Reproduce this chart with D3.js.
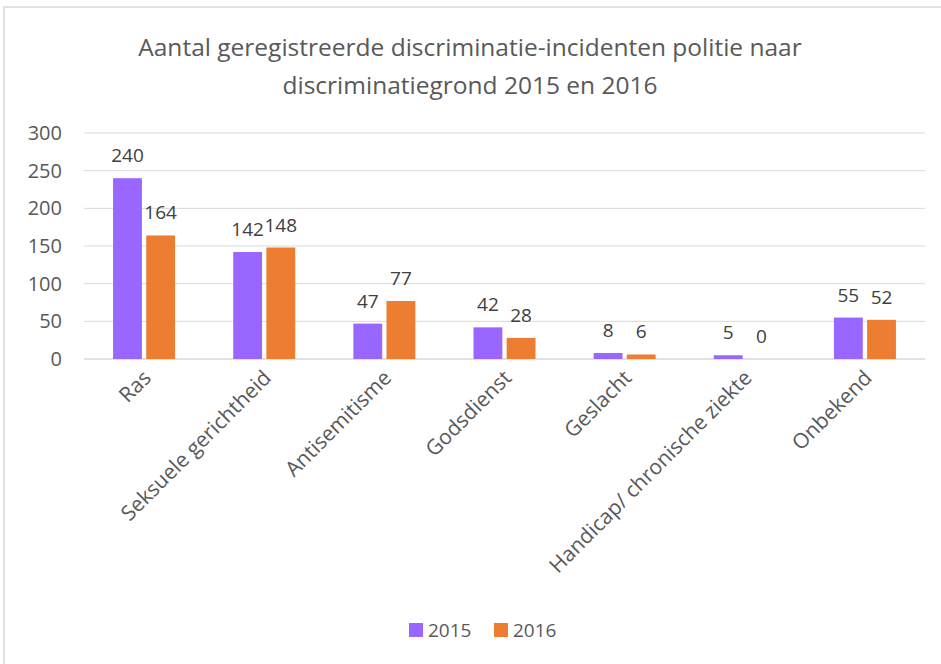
<!DOCTYPE html>
<html lang="nl">
<head>
<meta charset="UTF-8">
<title>Discriminatie-incidenten</title>
<script src="https://d3js.org/d3.v7.min.js"></script>
<style>
    body { margin: 0; background: #fff; }
    text { font-family: "Open Sans", "Noto Sans", sans-serif; }
</style>
</head>
<body>
<div id="chart"></div>
<script>
    // data
    let categories = ["Ras", "Seksuele gerichtheid", "Antisemitisme", "Godsdienst",
        "Geslacht", "Handicap/ chronische ziekte", "Onbekend"];
    let years = ["2015", "2016"];
    let values2015 = [240, 142, 47, 42, 8, 5, 55];
    let values2016 = [164, 148, 77, 28, 6, 0, 52];
    let yTicks = [0, 50, 100, 150, 200, 250, 300];
    let colors = ["#9966ff", "#ed7d31"];

    let width = 941, height = 664;
    let plotLeft = 84, plotRight = 925, plotTop = 133, plotBottom = 359;

    let svg = d3.select("#chart").append("svg")
        .attr("width", width)
        .attr("height", height);

    // chart frame
    svg.append("rect")
        .attr("x", 4).attr("y", 7)
        .attr("width", width + 10).attr("height", height + 10)
        .attr("fill", "none")
        .attr("stroke", "#d9d9d9")
        .attr("stroke-width", 1.5);

    // title
    let title = svg.append("text")
        .attr("text-anchor", "middle")
        .attr("fill", "#595959")
        .style("font-size", "24.5px");
    title.append("tspan").attr("x", 470).attr("y", 56)
        .text("Aantal geregistreerde discriminatie-incidenten politie naar");
    title.append("tspan").attr("x", 470).attr("y", 94)
        .text("discriminatiegrond 2015 en 2016");

    let y = d3.scaleLinear().domain([0, 300]).range([plotBottom, plotTop]);
    let x0 = d3.scaleBand().domain(categories).range([plotLeft, plotRight]);
    let x1 = d3.scaleBand().domain(years).range([0, 62]).paddingInner(0.13);

    // gridlines
    svg.append("g").selectAll("line")
        .data(yTicks)
        .enter().append("line")
        .attr("x1", plotLeft).attr("x2", plotRight)
        .attr("y1", d => y(d)).attr("y2", d => y(d))
        .attr("stroke", "#d9d9d9")
        .attr("stroke-width", d => d === 0 ? 1.5 : 1);

    // y axis labels
    let yAxis = svg.append("g")
        .attr("transform", "translate(" + (plotLeft - 22) + ",0)")
        .call(d3.axisLeft(y).tickValues(yTicks).tickSize(0).tickPadding(0));
    yAxis.select(".domain").remove();
    yAxis.selectAll("text")
        .attr("fill", "#595959")
        .style("font-size", "20px")
        .style("font-family", "\"Open Sans\", sans-serif");

    let series = years.map((yr, i) => ({
        year: yr,
        values: (i === 0 ? values2015 : values2016).map((v, j) => ({cat: categories[j], value: v}))
    }));

    let groupOffset = (x0.bandwidth() - 62) / 2;

    let groups = svg.selectAll(".series")
        .data(series)
        .enter().append("g")
        .attr("class", "series");

    groups.each(function (s, i) {
        let g = d3.select(this);
        g.selectAll("rect")
            .data(s.values)
            .enter().append("rect")
            .attr("x", d => x0(d.cat) + groupOffset + x1(s.year))
            .attr("y", d => y(d.value))
            .attr("width", x1.bandwidth())
            .attr("height", d => plotBottom - y(d.value))
            .attr("fill", colors[i]);

        g.selectAll("text")
            .data(s.values)
            .enter().append("text")
            .attr("x", d => x0(d.cat) + groupOffset + x1(s.year) + x1.bandwidth() / 2)
            .attr("y", d => y(d.value) - 16)
            .attr("text-anchor", "middle")
            .attr("fill", "#404040")
            .style("font-size", "19px")
            .text(d => d.value);
    });

    // category labels, rotated
    svg.append("g").selectAll("text")
        .data(categories)
        .enter().append("text")
        .attr("transform", d => "translate(" + (x0(d) + x0.bandwidth() / 2 + 3) + "," + (plotBottom + 15) + ") rotate(-45)")
        .attr("text-anchor", "end")
        .attr("dy", "0.35em")
        .attr("fill", "#595959")
        .style("font-size", "21px")
        .text(d => d);

    // legend
    let legend = svg.append("g").selectAll("g")
        .data(years)
        .enter().append("g")
        .attr("transform", (d, i) => "translate(" + (409 + i * 85) + ",623)");
    legend.append("rect")
        .attr("width", 14).attr("height", 14)
        .attr("fill", (d, i) => colors[i]);
    legend.append("text")
        .attr("x", 19).attr("y", 7)
        .attr("dy", "0.35em")
        .attr("fill", "#595959")
        .style("font-size", "19px")
        .text(d => d);
</script>
</body>
</html>
